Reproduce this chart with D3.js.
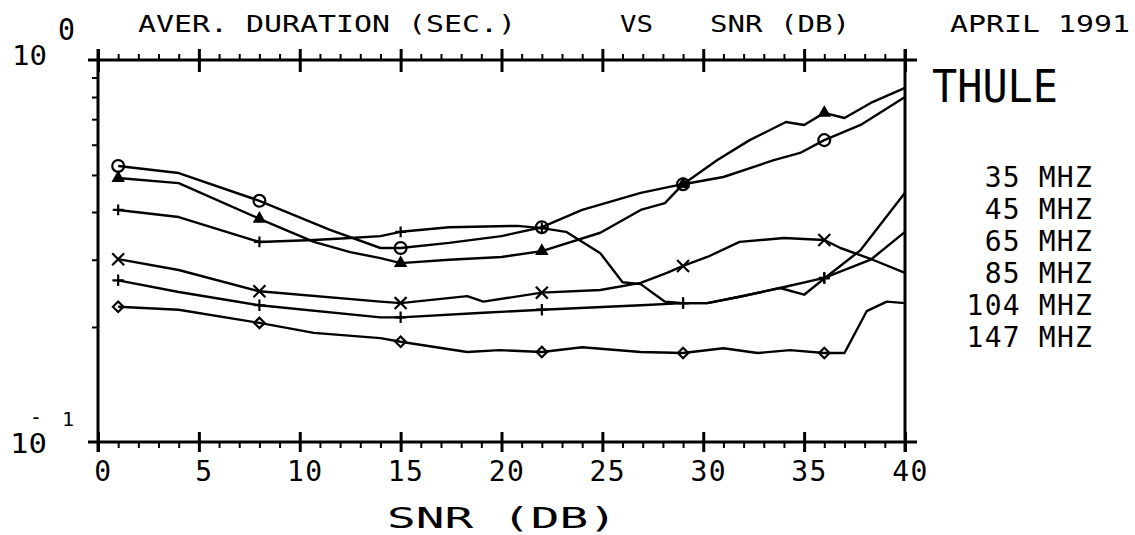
<!DOCTYPE html>
<html>
<head>
<meta charset="utf-8">
<script src="https://cdn.jsdelivr.net/npm/d3@7"></script>
<style>
  body { margin: 0; background: #fff; }
  svg text { font-family: "DejaVu Sans Mono", "Liberation Mono", monospace; fill: #000; }
</style>
</head>
<body>
<svg id="chart" width="1135" height="535"></svg>
<script>
// SNR (dB) vs average duration (sec), Thule, April 1991
const markerSnr = [1, 8, 15, 22, 29, 36];

const s35 = [[1,0.528],[4,0.506],[8,0.428],[11.5,0.359],[14,0.322],[15,0.322],[17.4,0.332],[20,0.346],[22,0.365],[24,0.405],[26.9,0.449],[28.8,0.471],[29,0.473],[31,0.494],[33.5,0.547],[34.8,0.571],[36,0.617],[37.8,0.676],[40,0.80]];
const s45 = [[1,0.491],[4,0.476],[8,0.384],[10.7,0.334],[12.5,0.314],[14,0.303],[15,0.294],[17.4,0.300],[20,0.305],[22,0.316],[24.9,0.353],[26.9,0.405],[28.1,0.422],[29,0.473],[30.7,0.547],[32.3,0.617],[34.1,0.688],[35,0.676],[36,0.727],[37,0.705],[38.3,0.772],[40,0.845]];
const s65 = [[1,0.405],[4,0.388],[8,0.334],[10.7,0.338],[12.5,0.342],[14,0.346],[15,0.355],[17.4,0.365],[20.8,0.368],[22,0.363],[23.2,0.355],[24.9,0.312],[26,0.262],[26.9,0.259],[28.1,0.233],[29,0.231],[30.2,0.231],[31.8,0.240],[33.8,0.253],[35,0.243],[36,0.268],[37.8,0.318],[40,0.449]];
const s85 = [[1,0.301],[4,0.282],[8,0.248],[14,0.233],[15,0.231],[18.3,0.241],[19.1,0.233],[22,0.246],[24.9,0.250],[26.9,0.261],[28.2,0.277],[29,0.289],[30.2,0.305],[31.8,0.334],[34,0.342],[36,0.338],[36.8,0.322],[38.4,0.300],[40,0.277]];
const s104 = [[1,0.265],[4,0.247],[8,0.228],[14,0.212],[15,0.212],[19.1,0.218],[22,0.222],[26.9,0.228],[29,0.231],[30.2,0.231],[31.8,0.240],[33.8,0.253],[36,0.269],[38.3,0.300],[40,0.355]];
const s147 = [[1,0.226],[4,0.222],[8,0.205],[10.7,0.193],[14,0.187],[15,0.183],[18.3,0.172],[19.9,0.174],[22,0.172],[24,0.177],[26.9,0.172],[29,0.171],[31,0.176],[32.7,0.171],[34.3,0.174],[36,0.171],[37,0.171],[38.1,0.220],[39.1,0.233],[40,0.231]];

const legendLabels = ["35 MHZ", "45 MHZ", "65 MHZ", "85 MHZ", "104 MHZ", "147 MHZ"];
const xMajor = [0, 5, 10, 15, 20, 25, 30, 35, 40];
const yMinor = [0.2, 0.3, 0.4, 0.5, 0.6, 0.7, 0.8, 0.9];

const svg = d3.select("#chart");

const x = d3.scaleLinear().domain([0, 40]).range([98, 905]);
const y = d3.scaleLog().domain([0.1, 1]).range([442, 60]);

const xMinor = d3.range(0, 41).filter((d) => d % 5 !== 0);

// frame lines, each running a little past the corners like the plotter did
const frame = svg.append("g").attr("stroke", "#000").attr("stroke-width", 3);
frame.append("line").attr("x1", x(0) - 10).attr("x2", x(40) + 12).attr("y1", y(0.1)).attr("y2", y(0.1));
frame.append("line").attr("x1", x(0) - 10).attr("x2", x(40) + 12).attr("y1", y(1)).attr("y2", y(1));
frame.append("line").attr("x1", x(0)).attr("x2", x(0)).attr("y1", y(1) - 11).attr("y2", y(0.1) + 10);
frame.append("line").attr("x1", x(40)).attr("x2", x(40)).attr("y1", y(1) - 11).attr("y2", y(0.1) + 10);

const tidy = (g, w) =>
  g
    .call((g) => g.select(".domain").remove())
    .call((g) => g.selectAll(".tick line").attr("stroke", "#000").attr("stroke-width", w));

// bottom axis
svg
  .append("g")
  .attr("transform", `translate(0,${y(0.1)})`)
  .call(d3.axisBottom(x).tickValues(xMinor).tickSize(6).tickFormat(""))
  .call((g) => tidy(g, 2));

svg
  .append("g")
  .attr("transform", `translate(0,${y(0.1)})`)
  .call(d3.axisBottom(x).tickValues(xMajor).tickSize(10).tickPadding(9).tickFormat(d3.format("d")))
  .call((g) => tidy(g, 3))
  .call((g) => g.selectAll(".tick line").attr("y1", -10))
  .call((g) =>
    g
      .selectAll(".tick text")
      .attr("dx", 5)
      .style("font-size", "28px")
      .style("letter-spacing", "1.5px")
      .style("font-family", '"DejaVu Sans Mono", monospace')
  );

// top axis
svg
  .append("g")
  .attr("transform", `translate(0,${y(1)})`)
  .call(d3.axisTop(x).tickValues(xMinor).tickSize(6).tickFormat(""))
  .call((g) => tidy(g, 2));

svg
  .append("g")
  .attr("transform", `translate(0,${y(1)})`)
  .call(d3.axisTop(x).tickValues(xMajor).tickSize(11).tickFormat(""))
  .call((g) => tidy(g, 3))
  .call((g) => g.selectAll(".tick line").attr("y1", 12));

// left axis minor ticks
svg
  .append("g")
  .attr("transform", `translate(${x(0)},0)`)
  .call(d3.axisLeft(y).tickValues(yMinor).tickSize(6).tickFormat(""))
  .call((g) => tidy(g, 2));

// curves
const series = [s35, s45, s65, s85, s104, s147];
const line = d3
  .line()
  .x((d) => x(d[0]))
  .y((d) => y(d[1]));

svg
  .append("g")
  .selectAll("path")
  .data(series)
  .join("path")
  .attr("fill", "none")
  .attr("stroke", "#000")
  .attr("stroke-width", 2.4)
  .attr("stroke-linejoin", "round")
  .attr("d", line);

// markers
const plusSym = d3.symbolPlus || d3.symbolCross;
const timesSym = d3.symbolTimes || d3.symbolCross;
const markerDefs = [
  { type: d3.symbolCircle, size: 110, fill: "none" },
  { type: d3.symbolTriangle, size: 40, fill: "#000" },
  { type: plusSym, size: 40, fill: "none" },
  { type: timesSym, size: 95, fill: "none" },
  { type: plusSym, size: 45, fill: "none" },
  { type: d3.symbolDiamond2 || d3.symbolDiamond, size: 70, fill: "none" },
];

series.forEach((s, i) => {
  const m = markerDefs[i];
  svg
    .append("g")
    .selectAll("path")
    .data(s.filter((d) => markerSnr.includes(d[0])))
    .join("path")
    .attr("transform", (d) => `translate(${x(d[0])},${y(d[1])})`)
    .attr("d", d3.symbol().type(m.type).size(m.size))
    .attr("fill", m.fill)
    .attr("stroke", "#000")
    .attr("stroke-width", 2.2);
});

const label = (txt, px, py, size, len) => {
  const t = svg.append("text").attr("x", px).attr("y", py).attr("font-size", size).text(txt);
  if (len) t.attr("textLength", len).attr("lengthAdjust", "spacingAndGlyphs");
  return t;
};

// y axis labels (10^0, 10^-1)
label("10", 12, 65, 27, 35);
label("0", 58, 40, 30, 17);
label("10", 10, 453, 27, 37);
label("-", 30, 424, 22, 12);
label("1", 62, 426, 20);

// header
label("AVER. DURATION (SEC.)", 138, 32, 23, 378);
label("VS", 620, 32, 23, 33);
label("SNR (DB)", 710, 32, 23, 140);
label("APRIL 1991", 950, 32, 23, 180);

// station name and legend
label("THULE", 932, 102, 45, 126);

svg
  .append("g")
  .selectAll("text")
  .data(legendLabels)
  .join("text")
  .attr("x", 1093)
  .attr("y", (d, i) => 187 + i * 32)
  .attr("text-anchor", "end")
  .attr("font-size", 28)
  .style("letter-spacing", "1.2px")
  .text((d) => d);

// x axis title
label("SNR (DB)", 387, 528, 29, 230);
</script>
</body>
</html>
